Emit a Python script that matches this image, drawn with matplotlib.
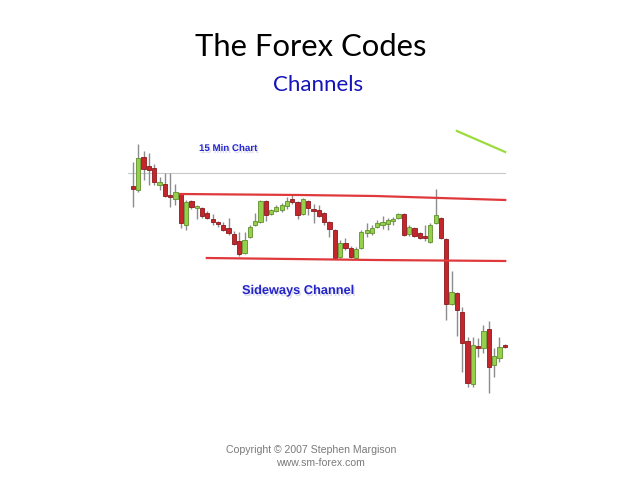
#!/usr/bin/env python3
"""
Slide: The Forex Codes - Channels (15 min candlestick chart, sideways channel).
"""

import numpy as np
import matplotlib
matplotlib.use("Agg")
import matplotlib.pyplot as plt
import matplotlib.patheffects as pe

# OHLC levels (arbitrary price points)
opens = [214, 210, 243, 234, 232, 215, 216, 205, 201, 206, 175, 199, 192, 192, 187, 181,
         178, 175, 172, 166, 159, 147, 163, 175, 178, 199, 186, 189, 190, 194, 201, 198,
         186, 199, 191, 190, 187, 178, 170, 143, 157, 152, 142, 152, 167, 167, 173, 175,
         176, 179, 182, 186, 166, 172, 167, 164, 158, 177, 182, 161, 96, 107, 88, 59,
         16, 54, 52, 71, 35, 42, 55]
highs = [238, 256, 249, 247, 236, 223, 227, 227, 216, 206, 200, 200, 195, 193, 189, 186,
         179, 178, 182, 169, 168, 168, 175, 187, 200, 200, 191, 195, 197, 203, 205, 199,
         202, 200, 196, 195, 188, 179, 171, 160, 162, 154, 153, 170, 177, 175, 180, 184,
         182, 183, 187, 187, 175, 173, 168, 175, 177, 211, 183, 162, 129, 108, 93, 63,
         63, 62, 75, 79, 52, 63, 56]
lows = [193, 208, 220, 215, 215, 210, 203, 193, 195, 172, 170, 191, 181, 182, 181, 175,
        173, 169, 165, 155, 144, 146, 162, 174, 177, 179, 185, 188, 188, 191, 196, 181,
        185, 185, 177, 183, 175, 163, 141, 142, 150, 142, 141, 151, 163, 165, 172, 171,
        170, 175, 181, 164, 164, 163, 161, 159, 157, 176, 161, 80, 95, 64, 28, 13,
        13, 43, 47, 7, 23, 38, 52]
closes = [211, 242, 231, 230, 218, 218, 204, 203, 208, 177, 198, 193, 194, 184, 182, 178,
          176, 170, 167, 156, 146, 160, 173, 179, 199, 185, 190, 193, 195, 199, 198, 185,
          201, 192, 189, 184, 178, 171, 142, 157, 152, 143, 151, 168, 170, 172, 177, 178,
          180, 181, 186, 165, 173, 164, 162, 162, 175, 185, 162, 96, 108, 90, 57, 17,
          55, 52, 69, 33, 44, 53, 53]

# channel lines and other guides (bar index, level)
upper_x = [8.85, 31.4, 45.6, 70.1]
upper_y = [206, 205, 204, 200]
lower_x = [13.9, 45.6, 70.1]
lower_y = [142, 140, 139]
ref_x = [-0.9, 70.1]
ref_y = [227, 227]
trend_x = [61.0, 70.1]
trend_y = [269, 248]

W, H = 638, 479
fig = plt.figure(figsize=(W / 100, H / 100), dpi=100)
fig.patch.set_facecolor("white")

# chart area in pixels: x 128..510, y 125..400
ax = fig.add_axes([128 / W, (H - 400) / H, (510 - 128) / W, 275 / H])
ax.set_xlim(-0.94, 71.0)
ax.set_ylim(0, 275)
ax.axis("off")

o = np.array(opens)
h = np.array(highs)
l = np.array(lows)
c = np.array(closes)
idx = np.arange(len(o))
up = c >= o

ax.plot(ref_x, ref_y, color="#c8c8c8", lw=0.8, zorder=1)
ax.vlines(idx, l, h, color="#8c8c8c", lw=1.0, zorder=2)
ax.bar(idx[up], (c - o)[up], bottom=o[up], width=0.8,
       color="#94d04a", edgecolor="#5f8f2a", linewidth=0.6, zorder=3)
ax.bar(idx[~up], (o - c)[~up], bottom=c[~up], width=0.8,
       color="#c4262c", edgecolor="#8a1a1e", linewidth=0.6, zorder=3)
ax.plot(upper_x, upper_y, color="#e0393c", lw=1.6, zorder=4)
ax.plot(lower_x, lower_y, color="#e0393c", lw=1.6, zorder=4)
ax.plot(trend_x, trend_y, color="#9bdc3c", lw=1.6, zorder=4)

shadow = [pe.SimplePatchShadow(offset=(1, -1.5), shadow_rgbFace="#9090c0", alpha=0.3),
          pe.Normal()]
fig.text(199 / W, 1 - 148 / H, "15 Min Chart", fontsize=7, fontweight="bold",
         family="Liberation Sans", color="#2a2ad0", ha="left", va="center",
         path_effects=shadow)
fig.text(242 / W, 1 - 291 / H, "Sideways Channel", fontsize=9.2, fontweight="bold",
         family="Liberation Sans", color="#2424c8", ha="left", va="center",
         path_effects=shadow)

fig.text(311 / W, 1 - 47 / H, "The Forex Codes", fontsize=22.3, family="Lato",
         color="black", ha="center", va="center")
fig.text(318.5 / W, 1 - 85 / H, "Channels", fontsize=16, family="Lato",
         color="#1414b8", ha="center", va="center")

fig.text(311 / W, 1 - 450 / H, "Copyright \u00a9 2007 Stephen Margison", fontsize=7.6,
         family="Liberation Sans", color="#7a7a7a", ha="center", va="center")
fig.text(320 / W, 1 - 463 / H, "www.sm-forex.com", fontsize=7.6,
         family="Liberation Sans", color="#7a7a7a", ha="center", va="center")

fig.savefig("out.png", dpi=100, facecolor="white")
